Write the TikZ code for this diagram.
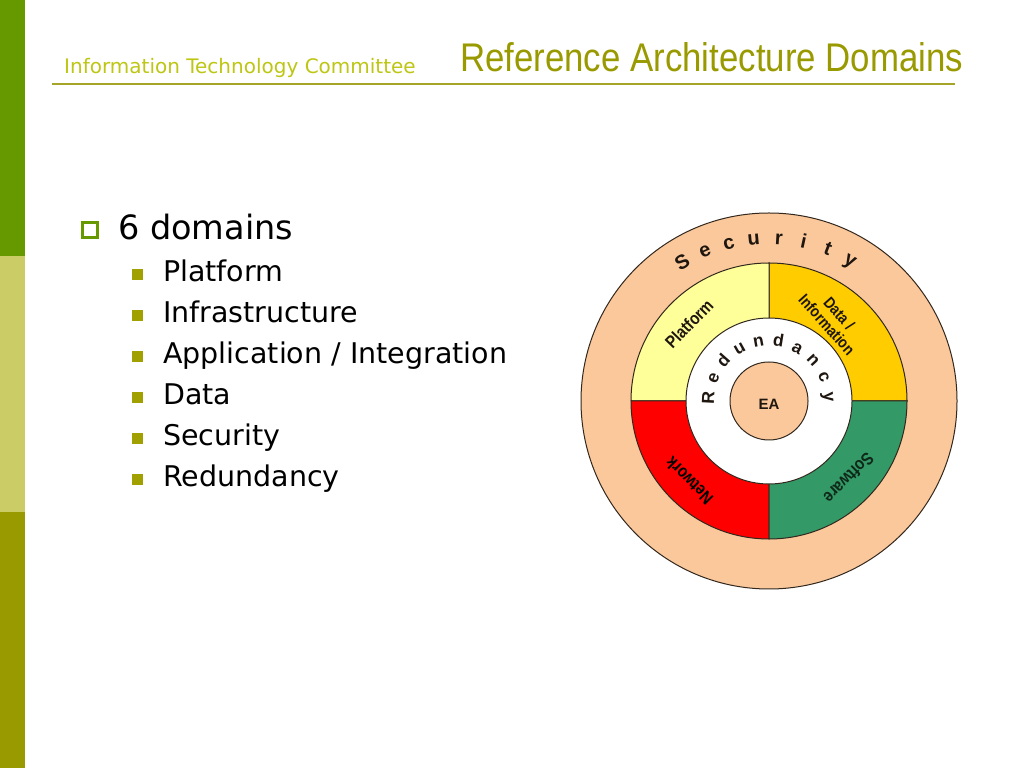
\documentclass[tikz,border=0pt]{standalone}
\usepackage{fontspec}
\newfontfamily\verd{DejaVu Sans}
\newfontfamily\arl{Liberation Sans}
\newfontfamily\arln[FakeStretch=0.85]{Liberation Sans}
\newfontfamily\narrowf[FakeStretch=0.87]{Liberation Sans}
\definecolor{bargreen}{RGB}{102,153,0}
\definecolor{barlight}{RGB}{204,204,102}
\definecolor{barolive}{RGB}{153,153,0}
\definecolor{titleol}{RGB}{153,153,0}
\definecolor{subtitle}{RGB}{190,198,20}
\definecolor{hline}{RGB}{165,165,40}
\definecolor{bulsub}{RGB}{160,160,0}
\definecolor{peach}{RGB}{250,200,155}
\definecolor{platy}{RGB}{255,255,153}
\definecolor{datay}{RGB}{255,204,0}
\definecolor{netred}{RGB}{255,0,0}
\definecolor{softg}{RGB}{51,153,102}
\definecolor{edge}{RGB}{50,40,30}
\definecolor{ink}{RGB}{30,22,15}
\begin{document}
\begin{tikzpicture}[x=1pt,y=1pt,
  ring/.style={draw=edge, line width=1pt},
  body/.style={anchor=base west, inner sep=0pt, font=\verd\fontsize{33.5}{40}\selectfont, text=black},
  sub/.style={anchor=base west, inner sep=0pt, font=\verd\fontsize{28.5}{34}\selectfont, text=black},
  subbul/.style={fill=bulsub, minimum size=11.5pt, inner sep=0pt, draw=none},
  secl/.style={anchor=base, inner sep=0pt, font=\arl\bfseries\fontsize{20}{22}\selectfont, text=ink},
  redl/.style={anchor=base, inner sep=0pt, font=\arl\bfseries\fontsize{17.5}{20}\selectfont, text=ink},
  quad/.style={inner sep=0pt, align=center, font=\arln\bfseries\fontsize{17.5}{17.5}\selectfont, text=ink}
]
\useasboundingbox (0,0) rectangle (1024,768);
\fill[white] (0,0) rectangle (1024,768);
% left bar
\fill[bargreen] (0,512) rectangle (25,768);
\fill[barlight] (0,256) rectangle (25,512);
\fill[barolive] (0,0) rectangle (25,256);
% header
\node[anchor=base west, inner sep=0pt, font=\verd\fontsize{20}{24}\selectfont, text=subtitle] (itc) at (64,694) {Information Technology Committee};
\node[anchor=base west, inner sep=0pt, font=\narrowf\fontsize{40}{48}\selectfont, text=titleol] (title) at (460,696) {Reference Architecture Domains};
\coordinate (hl) at (52,684);
\coordinate (hr) at (955,684);
\draw[hline, line width=2pt] (hl) -- (hr);
% bullets
\node[draw=bargreen, line width=3pt, minimum size=15pt, inner sep=0pt] (b0) at (90,537.5) {};
\node[body] (t0) at (118,528) {6 domains};
\foreach \txt [count=\i from 0] in {Platform,Infrastructure,Application / Integration,Data,Security,Redundancy}{
  \pgfmathsetmacro\yy{486-41*\i}
  \node[subbul] (sb\i) at (137.5,\yy+7.5) {};
  \node[sub] (st\i) at (163,\yy) {\txt};
}
% diagram
\coordinate (C) at (769,367);
\filldraw[ring, fill=peach] (C) circle[radius=188];
\filldraw[ring, fill=datay] (C) -- ++(0:138) arc[start angle=0, end angle=90, radius=138] -- cycle;
\filldraw[ring, fill=platy] (C) -- ++(90:138) arc[start angle=90, end angle=180, radius=138] -- cycle;
\filldraw[ring, fill=netred] (C) -- ++(180:138) arc[start angle=180, end angle=270, radius=138] -- cycle;
\filldraw[ring, fill=softg] (C) -- ++(270:138) arc[start angle=270, end angle=360, radius=138] -- cycle;
\filldraw[ring, fill=white] (C) circle[radius=83];
\filldraw[ring, fill=peach] (C) circle[radius=39];
\node[inner sep=0pt, font=\arl\bfseries\fontsize{15}{17}\selectfont, text=ink] (ea) at ([yshift=-3pt]C) {EA};
% Security
\foreach \l [count=\i from 0] in {S,e,c,u,r,i,t,y}{
  \pgfmathsetmacro\a{122-8.857*\i}
  \node[secl, rotate=\a-90] (sec\i) at ([shift={(\a:157)}]C) {\l};
}
% Redundancy
\foreach \l [count=\i from 0] in {R,e,d,u,n,d,a,n,c,y}{
  \pgfmathsetmacro\a{177-19.2*\i}
  \node[redl, rotate=\a-90] (red\i) at ([shift={(\a:55)}]C) {\l};
}
% quadrant labels
\node[quad, rotate=46] (plat) at ([shift={(136:111)}]C) {Platform};
\node[quad, rotate=-48, font=\arln\bfseries\fontsize{16}{16.5}\selectfont] (data) at ([shift={(52:104)}]C) {Data /\\Information};
\node[quad, rotate=135, text=black] (net) at ([shift={(225:113)}]C) {Network};
\node[quad, rotate=-135, text={rgb,255:red,15;green,40;blue,25}] (soft) at ([shift={(-44:111)}]C) {Software};
\end{tikzpicture}
\end{document}
